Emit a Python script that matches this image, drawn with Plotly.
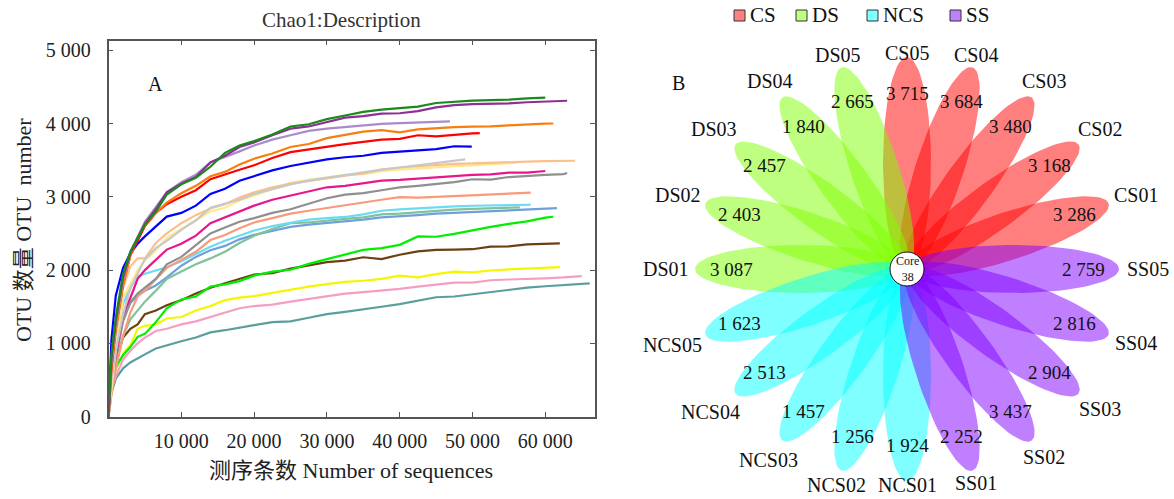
import numpy as np
import plotly.graph_objects as go

W, H = 1174, 499
SERIF = "Liberation Serif, Times New Roman, Noto Sans CJK SC, serif"

# ---------------- Panel A data: rarefaction curves ----------------
seq_grid = [0, 400, 1000, 2000, 3000, 4000, 5000, 6500, 8000, 10000, 12000, 14000,
            16000, 18000, 20000, 22500, 25000, 27500, 30000, 32500, 35000, 37500,
            40000, 42500, 45000, 47500, 50000, 52500, 55000, 57500, 60000, 62500, 65000]

otu_dark_green = [0, 850, 1350, 1950, 2250, 2430, 2620, 2800, 3030, 3170, 3260, 3410, 3600, 3700,
                  3760, 3850, 3960, 3990, 4060, 4110, 4160, 4190, 4205, 4230, 4280, 4300, 4312,
                  4320, 4325, 4342, 4352]
otu_purple = [0, 800, 1300, 1900, 2230, 2440, 2630, 2830, 3060, 3180, 3270, 3470, 3560, 3680, 3740,
              3840, 3930, 3960, 4020, 4080, 4100, 4135, 4140, 4170, 4220, 4250, 4265, 4268, 4275,
              4290, 4300, 4305, 4311]
otu_light_purple = [0, 780, 1280, 1880, 2250, 2460, 2660, 2860, 3060, 3200, 3300, 3470, 3540, 3620,
                    3700, 3780, 3840, 3900, 3930, 3955, 3980, 3995, 4005, 4015, 4025, 4030]
otu_orange = [0, 700, 1200, 1800, 2200, 2450, 2620, 2780, 2920, 3050, 3150, 3280, 3340, 3440, 3520,
              3590, 3680, 3720, 3800, 3840, 3890, 3910, 3880, 3920, 3940, 3950, 3958, 3960, 3975,
              3990, 3998, 4000]
otu_red = [0, 650, 1200, 1800, 2200, 2400, 2600, 2780, 2900, 3000, 3090, 3240, 3310, 3370, 3430,
           3530, 3610, 3650, 3690, 3720, 3750, 3780, 3790, 3840, 3825, 3850, 3866, 3870]
otu_blue = [0, 1050, 1650, 2030, 2230, 2360, 2460, 2600, 2730, 2780, 2880, 3040, 3110, 3220, 3280,
            3360, 3420, 3470, 3510, 3540, 3560, 3600, 3620, 3630, 3650, 3690, 3684]
otu_light_gray = [0, 500, 900, 1400, 1750, 1950, 2150, 2300, 2400, 2550, 2680, 2850, 2900, 2960,
                  3040, 3110, 3170, 3220, 3260, 3300, 3330, 3370, 3400, 3430, 3460, 3500, 3511]
otu_peach = [0, 550, 1150, 1750, 2050, 2160, 2160, 2370, 2500, 2640, 2750, 2840, 2900, 2990, 3060,
             3130, 3180, 3220, 3260, 3290, 3320, 3370, 3400, 3420, 3440, 3450, 3455, 3460, 3470,
             3480, 3488, 3490, 3492]
otu_light_yellow = [0, 400, 900, 1620, 1820, 2000, 2130, 2270, 2440, 2560, 2680, 2800, 2850, 2950,
                    3020, 3100, 3190, 3230, 3270, 3300, 3310, 3350, 3370, 3390, 3400, 3420, 3430,
                    3440, 3460, 3465]
otu_magenta = [0, 450, 850, 1400, 1620, 1880, 2000, 2140, 2280, 2360, 2470, 2640, 2720, 2800, 2880,
               2960, 3020, 3080, 3130, 3150, 3190, 3220, 3230, 3250, 3265, 3290, 3300, 3305, 3330,
               3330, 3352]
otu_gray = [0, 420, 800, 1300, 1560, 1680, 1760, 1880, 2080, 2180, 2340, 2500, 2580, 2660, 2710,
            2780, 2830, 2900, 2980, 3030, 3050, 3090, 3130, 3150, 3170, 3200, 3240, 3235, 3270,
            3290, 3300, 3310, 3325]
otu_salmon = [0, 300, 650, 1100, 1420, 1640, 1720, 1880, 2030, 2140, 2250, 2410, 2480, 2570, 2650,
              2710, 2770, 2810, 2850, 2890, 2920, 2960, 2995, 2990, 3000, 3010, 3025, 3040, 3045,
              3055, 3056]
otu_light_cyan = [0, 650, 1100, 1540, 1760, 1910, 1950, 1990, 2040, 2120, 2220, 2320, 2400, 2470,
                  2540, 2600, 2650, 2690, 2710, 2725, 2760, 2810, 2830, 2845, 2860, 2870, 2878,
                  2885, 2888, 2890, 2892]
otu_sea_green = [0, 350, 700, 1100, 1330, 1450, 1570, 1720, 1880, 1980, 2080, 2160, 2250, 2370,
                 2470, 2560, 2640, 2650, 2680, 2700, 2720, 2760, 2770, 2790, 2810, 2825, 2835,
                 2840, 2850, 2856]
otu_light_blue = [0, 500, 850, 1340, 1550, 1650, 1720, 1790, 1900, 2060, 2180, 2270, 2330, 2420,
                  2480, 2540, 2590, 2620, 2640, 2670, 2690, 2720, 2730, 2750, 2770, 2780, 2795,
                  2805, 2815, 2830, 2838, 2845]
otu_bright_green = [0, 520, 680, 840, 950, 1090, 1130, 1290, 1480, 1600, 1640, 1775, 1805, 1850,
                    1925, 1980, 2005, 2085, 2150, 2215, 2275, 2300, 2345, 2460, 2455, 2495, 2545,
                    2590, 2630, 2665, 2715, 2728]
otu_brown = [0, 450, 750, 1080, 1200, 1260, 1400, 1450, 1520, 1590, 1680, 1760, 1820, 1880, 1940,
             1960, 2020, 2065, 2110, 2130, 2175, 2150, 2210, 2255, 2275, 2280, 2285, 2320, 2325,
             2350, 2358, 2365]
otu_yellow = [0, 450, 640, 860, 980, 1200, 1240, 1260, 1340, 1360, 1450, 1510, 1590, 1625, 1645,
              1690, 1730, 1775, 1810, 1840, 1855, 1880, 1925, 1900, 1945, 1980, 1968, 1995, 2010,
              2022, 2030, 2040]
otu_pink = [0, 380, 550, 780, 900, 1000, 1080, 1170, 1200, 1260, 1300, 1360, 1420, 1480, 1510,
            1530, 1570, 1610, 1650, 1680, 1700, 1720, 1745, 1775, 1805, 1828, 1830, 1862, 1872,
            1885, 1888, 1900, 1919]
otu_teal = [0, 320, 520, 660, 740, 800, 850, 930, 975, 1030, 1080, 1150, 1180, 1220, 1250, 1290,
            1300, 1350, 1400, 1430, 1460, 1500, 1535, 1580, 1630, 1640, 1670, 1710, 1730, 1760,
            1780, 1795, 1810, 1820]

curve_series = [otu_teal, otu_pink, otu_yellow, otu_brown, otu_bright_green, otu_light_blue,
                otu_sea_green, otu_light_cyan, otu_salmon, otu_gray, otu_magenta,
                otu_light_yellow, otu_peach, otu_light_gray, otu_blue, otu_red, otu_orange,
                otu_light_purple, otu_purple, otu_dark_green]
curve_end_seq = [66100, 65000, 62000, 62000, 61100, 61600, 56500, 58000, 58000, 63000, 60000,
                 56000, 64100, 49000, 49900, 51000, 61100, 46900, 63000, 60000]
curve_colors = ["#5A9E9E", "#F59EC4", "#F5F500", "#6B4012", "#00EE00", "#70A0DC", "#80C29A",
                "#6ADCF2", "#F99A7A", "#8F8F8F", "#E8168C", "#FFE98A", "#FDC08A", "#C8C8C8",
                "#0000FF", "#FF0000", "#F77F10", "#A98BCB", "#8E2F96", "#1A8A1A"]

x_tick_vals = [10000, 20000, 30000, 40000, 50000, 60000]
x_tick_text = ["10 000", "20 000", "30 000", "40 000", "50 000", "60 000"]
y_tick_vals = [0, 1000, 2000, 3000, 4000, 5000]
y_tick_text = ["0", "1 000", "2 000", "3 000", "4 000", "5 000"]

# ---------------- Panel B data: flower diagram ----------------
# petals listed counter-clockwise starting from the one pointing right
petal_names = ["SS05", "CS01", "CS02", "CS03", "CS04", "CS05", "DS05", "DS04", "DS03", "DS02",
               "DS01", "NCS05", "NCS04", "NCS03", "NCS02", "NCS01", "SS01", "SS02", "SS03", "SS04"]
petal_values = [2759, 3286, 3168, 3480, 3684, 3715, 2665, 1840, 2457, 2403,
                3087, 1623, 2513, 1457, 1256, 1924, 2252, 3437, 2904, 2816]
petal_groups = ["SS", "CS", "CS", "CS", "CS", "CS", "DS", "DS", "DS", "DS",
                "DS", "NCS", "NCS", "NCS", "NCS", "NCS", "SS", "SS", "SS", "SS"]
group_names = ["CS", "DS", "NCS", "SS"]
group_fill = ["rgba(255,0,0,0.5)", "rgba(127,255,0,0.5)", "rgba(0,255,255,0.5)",
              "rgba(127,0,255,0.5)"]
group_swatch = ["#FF8080", "#BFFF80", "#80FFFF", "#BF80FF"]
core_label = "Core"
core_count = 38

fig = go.Figure()

# ---- Panel A traces ----
for ys, xend, col in zip(curve_series, curve_end_seq, curve_colors):
    xs = seq_grid[:len(ys) - 1] + [xend]
    fig.add_trace(go.Scatter(x=xs, y=ys, mode="lines", line=dict(color=col, width=2.2),
                             showlegend=False, hoverinfo="skip", xaxis="x", yaxis="y"))

# ---- Panel B petals ----
PETAL_A, PETAL_B = 106.0, 24.0
t = np.linspace(0, 2 * np.pi, 90)
n = len(petal_names)
for g, fill in zip(group_names, group_fill):
    for i in range(n):
        if petal_groups[i] != g:
            continue
        th = np.deg2rad(360.0 * i / n)
        u = PETAL_A + PETAL_A * np.cos(t)
        v = PETAL_B * np.sin(t)
        px = u * np.cos(th) - v * np.sin(th)
        py = u * np.sin(th) + v * np.cos(th)
        fig.add_trace(go.Scatter(x=px, y=py, mode="lines", fill="toself", fillcolor=fill,
                                 line=dict(width=0, color=fill), showlegend=False,
                                 hoverinfo="skip", xaxis="x2", yaxis="y2"))


def ann(**kw):
    d = dict(showarrow=False, xanchor="center", yanchor="middle")
    d.update(kw)
    return d


annotations = []
for i in range(n):
    th = np.deg2rad(360.0 * i / n)
    c, s = np.cos(th), np.sin(th)
    rv = 176
    annotations.append(ann(x=rv * c, y=rv * s, xref="x2", yref="y2",
                           text=f"{petal_values[i]:,}".replace(",", " "),
                           font=dict(family=SERIF, size=19, color="#111")))
    halfw = len(petal_names[i]) * 5.8
    rl = 2 * PETAL_A + 4 * abs(s) + (halfw + 6) * abs(c)
    annotations.append(ann(x=rl * c, y=rl * s, xref="x2", yref="y2", text=petal_names[i],
                           font=dict(family=SERIF, size=20, color="#111")))

annotations.append(ann(x=0, y=0, xref="x2", yref="y2", text=f"{core_label}<br>{core_count}",
                       font=dict(family=SERIF, size=12, color="#111")))

shapes = [dict(type="circle", xref="x2", yref="y2", x0=-17, x1=17, y0=-17, y1=17,
               fillcolor="white", line=dict(color="#111", width=1), layer="above")]

# manual legend for panel B
leg_x = [734, 796, 867, 950]
for gx, g, sw in zip(leg_x, group_names, group_swatch):
    shapes.append(dict(type="rect", xref="paper", yref="paper",
                       x0=gx / W, x1=(gx + 11) / W, y0=1 - 21 / H, y1=1 - 10 / H,
                       fillcolor=sw, line=dict(color="#333", width=1)))
    annotations.append(ann(x=(gx + 14) / W, y=1 - 15 / H, xref="paper", yref="paper",
                           xanchor="left", text=g,
                           font=dict(family=SERIF, size=21, color="#111")))

# panel texts
annotations += [
    ann(x=341 / W, y=1 - 20 / H, xref="paper", yref="paper",
        text="Chao1:Description", font=dict(family=SERIF, size=21, color="#333")),
    ann(x=6400, y=4540, xref="x", yref="y", text="A",
        font=dict(family=SERIF, size=20, color="#111")),
    ann(x=679 / W, y=1 - 83 / H, xref="paper", yref="paper", text="B",
        font=dict(family=SERIF, size=20, color="#111")),
    ann(x=351 / W, y=1 - 470 / H, xref="paper", yref="paper",
        text="测序条数 Number of sequences", font=dict(family=SERIF, size=22, color="#222")),
    ann(x=23 / W, y=1 - 230 / H, xref="paper", yref="paper", textangle=-90,
        text="OTU 数量 OTU  number", font=dict(family=SERIF, size=22, color="#222")),
]

axis_common = dict(showline=True, linecolor="#555", linewidth=1.5, mirror="ticks",
                   ticks="inside", ticklen=5, tickcolor="#555", tickwidth=1.2,
                   showgrid=False, zeroline=False, automargin=False,
                   tickfont=dict(family=SERIF, size=20, color="#222"))

fig.update_layout(
    width=W, height=H, autosize=False,
    margin=dict(l=0, r=0, t=0, b=0, pad=0, autoexpand=False),
    paper_bgcolor="white", plot_bgcolor="white",
    showlegend=False,
    xaxis=dict(domain=[108.5 / W, 595 / W], range=[0, 66830], tickmode="array",
               tickvals=x_tick_vals, ticktext=x_tick_text, anchor="y",
               ticklabelstandoff=6, **axis_common),
    yaxis=dict(domain=[1 - 416.7 / H, 1 - 40.7 / H], range=[0, 5130], tickmode="array",
               tickvals=y_tick_vals, ticktext=y_tick_text, anchor="x",
               ticklabelstandoff=12, **axis_common),
    xaxis2=dict(domain=[620 / W, 1.0], range=[620 - 907, W - 907], visible=False,
                anchor="y2", fixedrange=True, automargin=False),
    yaxis2=dict(domain=[0.0, 1.0], range=[269 - H, 269], visible=False,
                anchor="x2", fixedrange=True, automargin=False),
    annotations=annotations,
    shapes=shapes,
)

fig.write_html("out.html", config={"responsive": False})
